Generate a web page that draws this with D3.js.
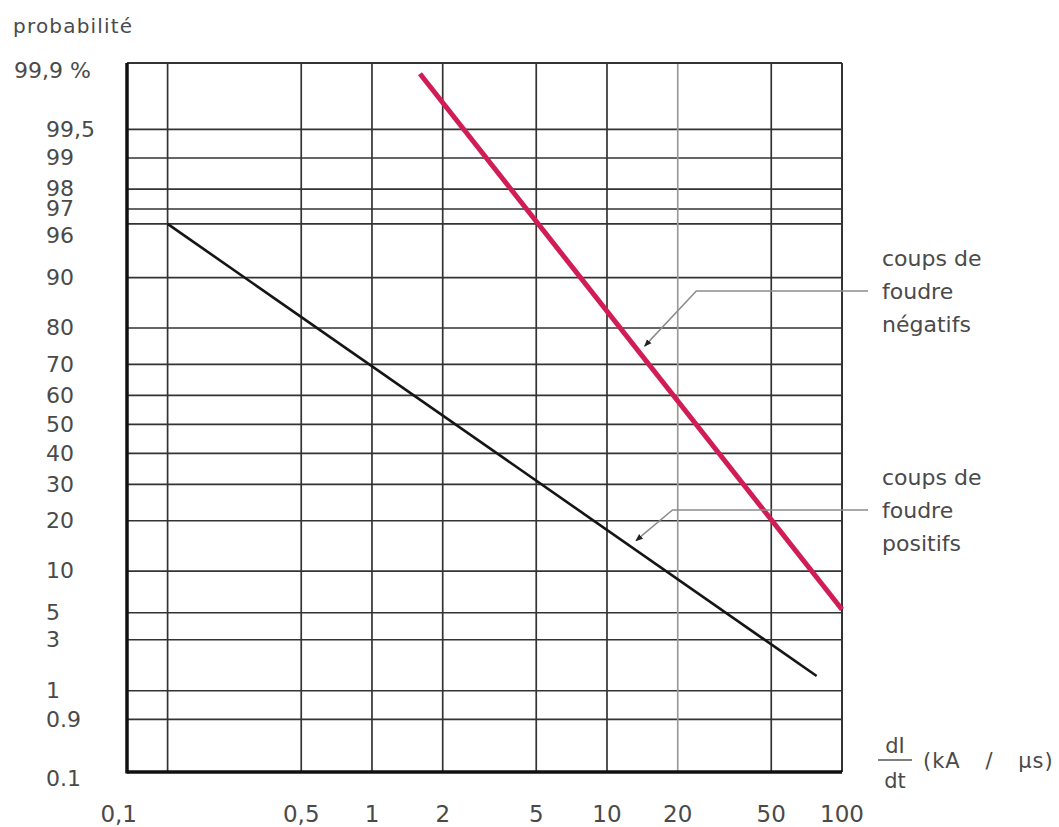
<!DOCTYPE html>
<html>
<head>
<meta charset="utf-8">
<script src="https://cdn.jsdelivr.net/npm/d3@7"></script>
<style>
  body { margin: 0; background: #fff; }
  svg text { font-family: "DejaVu Sans", sans-serif; fill: #4a4a4a; }
</style>
</head>
<body>
<svg id="chart" width="1059" height="827"></svg>
<script>
// x axis: dI/dt (kA/µs), log scale
const xTickValues = [0.1, 0.5, 1, 2, 5, 10, 20, 50, 100];
const xTickLabels = ["0,1", "0,5", "1", "2", "5", "10", "20", "50", "100"];
const xGridValues = [0.135, 0.5, 1, 2, 5, 10, 20, 50];

// y axis: probability (%), gaussian probability paper
const yTickValues = [99.9, 99.5, 99, 98, 97, 95, 90, 80, 70, 60, 50, 40, 30, 20, 10, 5, 3, 1, 0.5, 0.1];
const yTickLabels = ["99,9 %", "99,5", "99", "98", "97", "96", "90", "80", "70", "60", "50", "40", "30", "20", "10", "5", "3", "1", "0.9", "0.1"];
const yGridValues = [99.5, 99, 98, 97, 96, 90, 80, 70, 60, 50, 40, 30, 20, 10, 5, 3, 1, 0.5];

// the two straight lines (x in kA/µs, p in %)
const negatifs = [{x: 1.6, p: 99.89}, {x: 100, p: 5.3}];
const positifs = [{x: 0.135, p: 96.0}, {x: 78, p: 1.4}];

// inverse normal cdf (Acklam)
function probit(p) {
    const a = [-39.69683028665376, 220.9460984245205, -275.9285104469687, 138.3577518672690, -30.66479806614716, 2.506628277459239];
    const b = [-54.47609879822406, 161.5858368580409, -155.6989798598866, 66.80131188771972, -13.28068155288572];
    const c = [-0.007784894002430293, -0.3223964580411365, -2.400758277161838, -2.549671750303261, 4.374664141464968, 2.938163982698783];
    const d = [0.007784695709041462, 0.3224671290700398, 2.445134137142996, 3.754408661907416];
    const pl = 0.02425;
    let q, r;
    if (p < pl) {
        q = Math.sqrt(-2 * Math.log(p));
        return (((((c[0]*q+c[1])*q+c[2])*q+c[3])*q+c[4])*q+c[5]) / ((((d[0]*q+d[1])*q+d[2])*q+d[3])*q+1);
    }
    if (p > 1 - pl) {
        q = Math.sqrt(-2 * Math.log(1 - p));
        return -(((((c[0]*q+c[1])*q+c[2])*q+c[3])*q+c[4])*q+c[5]) / ((((d[0]*q+d[1])*q+d[2])*q+d[3])*q+1);
    }
    q = p - 0.5; r = q * q;
    return (((((a[0]*r+a[1])*r+a[2])*r+a[3])*r+a[4])*r+a[5])*q / (((((b[0]*r+b[1])*r+b[2])*r+b[3])*r+b[4])*r+1);
}

const plot = {left: 127, right: 842, top: 63, bottom: 772};

const x = d3.scaleLog().domain([0.0907, 100]).range([plot.left, plot.right]);
const z = d3.scaleLinear().domain([probit(0.0012), probit(0.9992)]).range([plot.bottom, plot.top]);
const y = p => z(probit(p / 100));

const svg = d3.select("#chart");

// grid
svg.append("g").selectAll("line")
    .data(yGridValues)
    .enter().append("line")
    .attr("x1", plot.left).attr("x2", plot.right)
    .attr("y1", d => y(d)).attr("y2", d => y(d))
    .attr("stroke", "#333")
    .attr("stroke-width", 1.7);

svg.append("g").selectAll("line")
    .data(xGridValues)
    .enter().append("line")
    .attr("x1", d => x(d)).attr("x2", d => x(d))
    .attr("y1", plot.top).attr("y2", plot.bottom)
    .attr("stroke", d => d === 20 ? "#9a9a9a" : "#333")
    .attr("stroke-width", 1.7);

// frame
svg.append("line").attr("x1", plot.left).attr("x2", plot.right).attr("y1", plot.top).attr("y2", plot.top)
    .attr("stroke", "#333").attr("stroke-width", 2.2);
svg.append("line").attr("x1", plot.right).attr("x2", plot.right).attr("y1", plot.top).attr("y2", plot.bottom)
    .attr("stroke", "#333").attr("stroke-width", 2);
svg.append("line").attr("x1", plot.left).attr("x2", plot.left).attr("y1", plot.top).attr("y2", plot.bottom + 1.5)
    .attr("stroke", "#111").attr("stroke-width", 3.5);
svg.append("line").attr("x1", plot.left).attr("x2", plot.right).attr("y1", plot.bottom).attr("y2", plot.bottom)
    .attr("stroke", "#111").attr("stroke-width", 3.5);

// tick labels ("0,1" sits left of the frame corner in the original)
svg.append("g").selectAll("text")
    .data(xTickValues)
    .enter().append("text")
    .attr("x", d => x(d))
    .attr("y", 822)
    .attr("text-anchor", (d, i) => i === 0 ? "end" : "middle")
    .attr("font-size", "23px")
    .text((d, i) => xTickLabels[i]);

svg.append("g").selectAll("text")
    .data(yTickValues)
    .enter().append("text")
    .attr("x", (d, i) => i === 0 ? 14 : 46)
    .attr("y", d => y(d))
    .attr("dy", "0.33em")
    .attr("font-size", "22px")
    .text((d, i) => yTickLabels[i]);

// series
const line = d3.line().x(d => x(d.x)).y(d => y(d.p));

svg.append("path")
    .datum(positifs)
    .attr("d", line)
    .attr("fill", "none")
    .attr("stroke", "#151515")
    .attr("stroke-width", 2.6);

svg.append("path")
    .datum(negatifs)
    .attr("d", line)
    .attr("fill", "none")
    .attr("stroke", "#d01d55")
    .attr("stroke-width", 5);

// point on a straight series (log x / probit y)
function pointAt(series, xv) {
    const [a, b] = series;
    const t = (Math.log10(xv) - Math.log10(a.x)) / (Math.log10(b.x) - Math.log10(a.x));
    const zv = probit(a.p / 100) + t * (probit(b.p / 100) - probit(a.p / 100));
    return [x(xv), z(zv)];
}

// annotations
svg.append("defs").append("marker")
    .attr("id", "arrow")
    .attr("viewBox", "0 0 10 10")
    .attr("refX", 9).attr("refY", 5)
    .attr("markerWidth", 5).attr("markerHeight", 5)
    .attr("orient", "auto")
    .append("path")
    .attr("d", "M0,1 L10,5 L0,9 Z")
    .attr("fill", "#222");

const annotations = [
    {series: negatifs, tipX: 13.7, elbowX: 24, lines: ["coups de", "foudre", "négatifs"], top: 266},
    {series: positifs, tipX: 12.5, elbowX: 19, lines: ["coups de", "foudre", "positifs"], top: 485}
];

annotations.forEach(a => {
    const lineGap = 33;
    const elbowY = a.top + lineGap - 8;
    const tip = pointAt(a.series, a.tipX);
    const ex = x(a.elbowX);
    // stop the arrow a little before the line
    const dx = tip[0] - ex, dy = tip[1] - elbowY, len = Math.hypot(dx, dy);
    const end = [tip[0] - dx / len * 8, tip[1] - dy / len * 8];

    svg.append("path")
        .attr("d", `M${868},${elbowY} L${ex},${elbowY} L${end[0]},${end[1]}`)
        .attr("fill", "none")
        .attr("stroke", "#8c8c8c")
        .attr("stroke-width", 1.5)
        .attr("marker-end", "url(#arrow)");

    svg.append("g").selectAll("text")
        .data(a.lines)
        .enter().append("text")
        .attr("x", 882)
        .attr("y", (d, i) => a.top + i * lineGap)
        .attr("font-size", "22px")
        .text(d => d);
});

// axis titles
svg.append("text")
    .attr("x", 13).attr("y", 33)
    .attr("font-size", "20px")
    .attr("letter-spacing", "1.2px")
    .text("probabilité");

svg.append("text")
    .attr("x", 895).attr("y", 753)
    .attr("text-anchor", "middle")
    .attr("font-size", "21px")
    .text("dI");
svg.append("line")
    .attr("x1", 878).attr("x2", 912).attr("y1", 760).attr("y2", 760)
    .attr("stroke", "#555").attr("stroke-width", 1.6);
svg.append("text")
    .attr("x", 895).attr("y", 788)
    .attr("text-anchor", "middle")
    .attr("font-size", "21px")
    .text("dt");
svg.append("text")
    .attr("x", 923).attr("y", 768)
    .attr("font-size", "21px")
    .attr("word-spacing", "17px")
    .attr("letter-spacing", "1px")
    .text("(kA / µs)");
</script>
</body>
</html>
